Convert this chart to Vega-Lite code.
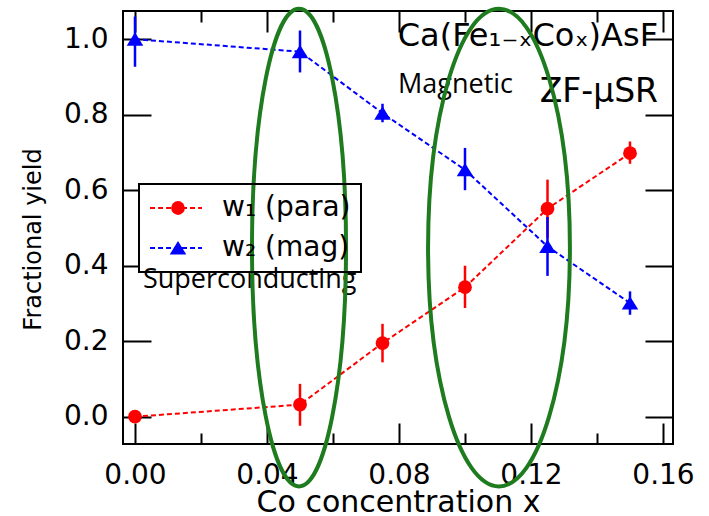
{
  "$schema": "https://vega.github.io/schema/vega-lite/v6.json",
  "width": 550,
  "height": 433,
  "autosize": {"type": "none"},
  "padding": {"left": 123, "top": 11, "right": 36, "bottom": 72},
  "background": "white",
  "config": {
    "view": {"stroke": "black", "strokeWidth": 2},
    "legend": {"strokeWidth": 2},
    "axis": {"grid": false, "domain": false, "tickColor": "black", "tickWidth": 2, "labelColor": "black", "labelFont": "DejaVu Sans", "labelFontSize": 28, "titleColor": "black", "titleFont": "DejaVu Sans", "titleFontWeight": "normal", "labelFlush": false, "labelOverlap": false}
  },
  "datasets": {
    "yield": [
      {"series": "w₁ (para)", "x": 0.0, "y": 0.0, "lo": 0.0, "hi": 0.0},
      {"series": "w₁ (para)", "x": 0.05, "y": 0.032, "lo": -0.024, "hi": 0.087},
      {"series": "w₁ (para)", "x": 0.075, "y": 0.195, "lo": 0.144, "hi": 0.246},
      {"series": "w₁ (para)", "x": 0.1, "y": 0.343, "lo": 0.288, "hi": 0.4},
      {"series": "w₁ (para)", "x": 0.125, "y": 0.551, "lo": 0.474, "hi": 0.628},
      {"series": "w₁ (para)", "x": 0.15, "y": 0.698, "lo": 0.67, "hi": 0.729},
      {"series": "w₂ (mag)", "x": 0.0, "y": 1.0, "lo": 0.927, "hi": 1.06},
      {"series": "w₂ (mag)", "x": 0.05, "y": 0.967, "lo": 0.912, "hi": 1.023},
      {"series": "w₂ (mag)", "x": 0.075, "y": 0.804, "lo": 0.78, "hi": 0.829},
      {"series": "w₂ (mag)", "x": 0.1, "y": 0.654, "lo": 0.6, "hi": 0.712},
      {"series": "w₂ (mag)", "x": 0.125, "y": 0.451, "lo": 0.373, "hi": 0.529},
      {"series": "w₂ (mag)", "x": 0.15, "y": 0.301, "lo": 0.27, "hi": 0.332}
    ]
  },
  "layer": [
    {
      "data": {"name": "yield"},
      "mark": {"type": "line", "strokeDash": [5, 3], "strokeWidth": 2},
      "encoding": {
        "x": {"field": "x", "type": "quantitative", "scale": {"domain": [-0.003636, 0.16303], "nice": false, "zero": false},
          "axis": {"orient": "bottom", "values": [0, 0.02, 0.04, 0.06, 0.08, 0.1, 0.12, 0.14, 0.16], "format": ".2f",
            "labelExpr": "round(datum.value*100) % 4 == 0 ? datum.label : ''",
            "tickSize": {"condition": {"test": "round(datum.value*100) % 4 == 0", "value": -21}, "value": -11},
            "labelBaseline": "alphabetic", "labelPadding": 60,
            "title": "Co concentration x", "titleFontSize": 30, "titleX": 275, "titleY": 67, "titleBaseline": "alphabetic", "titleAlign": "center"}},
        "y": {"field": "y", "type": "quantitative", "scale": {"domain": [-0.0723, 1.0747], "nice": false, "zero": false},
          "axis": {"orient": "left", "values": [0, 0.2, 0.4, 0.6, 0.8, 1], "format": ".1f",
            "tickSize": {"condition": {"test": "datum.value > 0.3 && datum.value < 0.7", "value": -16}, "value": -28},
            "labelPadding": {"condition": {"test": "datum.value > 0.3 && datum.value < 0.7", "value": 31}, "value": 43},
            "labelBaseline": "middle",
            "title": "Fractional yield", "titleFontSize": 24, "titleX": -90, "titleY": 228, "titleAngle": 270, "titleAlign": "center", "titleBaseline": "middle"}},
        "stroke": {"field": "series", "type": "nominal", "scale": {"domain": ["w₂ (mag)", "w₁ (para)"], "range": ["#0000ff", "#ff0000"]},
          "legend": {"title": null, "values": ["w₁ (para)", "w₂ (mag)"], "orient": "none", "legendX": 16, "legendY": 173, "strokeColor": "black", "padding": 10,
            "symbolType": "stroke", "symbolSize": 2704, "symbolStrokeWidth": 2, "symbolDash": [5, 3], "symbolOpacity": 1, "clipHeight": 28,
            "labelFont": "DejaVu Sans", "labelFontSize": 28, "labelColor": "black",
            "labelOffset": 19, "rowPadding": 12, "labelLimit": 400, "labelExpr": "datum.label + '\u2002'"}}
      }
    },
    {
      "data": {"name": "yield"},
      "transform": [{"filter": "datum.series === 'w₁ (para)'"}],
      "mark": {"type": "rule", "strokeWidth": 2.5, "color": "#ff0000"},
      "encoding": {
        "x": {"field": "x", "type": "quantitative", "scale": {"domain": [-0.003636, 0.16303], "nice": false, "zero": false},
          "axis": {"orient": "top", "values": [0, 0.02, 0.04, 0.06, 0.08, 0.1, 0.12, 0.14, 0.16],
            "tickSize": {"condition": {"test": "round(datum.value*100) % 4 == 0", "value": -21}, "value": -11},
            "labels": false, "title": null}},
        "y": {"field": "lo", "type": "quantitative", "scale": {"domain": [-0.0723, 1.0747], "nice": false, "zero": false},
          "axis": {"orient": "right", "values": [0, 0.2, 0.4, 0.6, 0.8, 1], "tickSize": -28, "labels": false, "title": null}},
        "y2": {"field": "hi"}
      }
    },
    {
      "data": {"name": "yield"},
      "transform": [{"filter": "datum.series === 'w₂ (mag)'"}],
      "mark": {"type": "rule", "strokeWidth": 2.5, "color": "#0000ff"},
      "encoding": {
        "x": {"field": "x", "type": "quantitative", "scale": {"domain": [-0.003636, 0.16303], "nice": false, "zero": false}, "axis": null},
        "y": {"field": "lo", "type": "quantitative", "scale": {"domain": [-0.0723, 1.0747], "nice": false, "zero": false}, "axis": null},
        "y2": {"field": "hi"}
      }
    },
    {
      "data": {"name": "yield"},
      "mark": {"type": "point", "filled": true, "opacity": 1, "strokeWidth": 0, "size": 190},
      "encoding": {
        "x": {"field": "x", "type": "quantitative", "scale": {"domain": [-0.003636, 0.16303], "nice": false, "zero": false}, "axis": null},
        "y": {"field": "y", "type": "quantitative", "scale": {"domain": [-0.0723, 1.0747], "nice": false, "zero": false}, "axis": null},
        "color": {"field": "series", "type": "nominal", "scale": {"domain": ["w₁ (para)", "w₂ (mag)"], "range": ["#ff0000", "#0000ff"]},
          "legend": {"title": null, "orient": "none", "legendX": 31, "legendY": 173, "padding": 10,
            "symbolSize": 190, "symbolStrokeWidth": 0, "symbolOpacity": 1, "clipHeight": 28, "labelFont": "DejaVu Sans", "labelFontSize": 28, "labelOpacity": 0,
            "labelOffset": 19, "rowPadding": 12, "labelLimit": 400}},
        "shape": {"field": "series", "type": "nominal", "scale": {"domain": ["w₁ (para)", "w₂ (mag)"], "range": ["circle", "M0,-1L1.2,0.95L-1.2,0.95Z"]},
          "legend": {"title": null, "orient": "none", "legendX": 31, "legendY": 173, "padding": 10,
            "symbolSize": 190, "symbolStrokeWidth": 0, "symbolOpacity": 1, "clipHeight": 28, "labelFont": "DejaVu Sans", "labelFontSize": 28, "labelOpacity": 0,
            "labelOffset": 19, "rowPadding": 12, "labelLimit": 400}}
      }
    },
    {
      "data": {"values": [{"label": "Ca(Fe₁₋ₓCoₓ)AsF"}]},
      "mark": {"type": "text", "align": "right", "baseline": "alphabetic", "font": "DejaVu Sans", "fontSize": 32, "color": "black"},
      "encoding": {
        "x": {"datum": 0.1585, "type": "quantitative", "scale": {"domain": [-0.003636, 0.16303], "nice": false, "zero": false}, "axis": null},
        "y": {"datum": 0.982, "type": "quantitative", "scale": {"domain": [-0.0723, 1.0747], "nice": false, "zero": false}, "axis": null},
        "text": {"field": "label"}
      }
    },
    {
      "data": {"values": [{"label": "ZF-μSR"}]},
      "mark": {"type": "text", "align": "right", "baseline": "alphabetic", "font": "DejaVu Sans", "fontSize": 33, "color": "black"},
      "encoding": {
        "x": {"datum": 0.1585, "type": "quantitative", "scale": {"domain": [-0.003636, 0.16303], "nice": false, "zero": false}, "axis": null},
        "y": {"datum": 0.834, "type": "quantitative", "scale": {"domain": [-0.0723, 1.0747], "nice": false, "zero": false}, "axis": null},
        "text": {"field": "label"}
      }
    },
    {
      "data": {"values": [{"label": "Magnetic"}]},
      "mark": {"type": "text", "align": "left", "baseline": "alphabetic", "font": "Open Sans", "fontSize": 27, "color": "black"},
      "encoding": {
        "x": {"datum": 0.0797, "type": "quantitative", "scale": {"domain": [-0.003636, 0.16303], "nice": false, "zero": false}, "axis": null},
        "y": {"datum": 0.857, "type": "quantitative", "scale": {"domain": [-0.0723, 1.0747], "nice": false, "zero": false}, "axis": null},
        "text": {"field": "label"}
      }
    },
    {
      "data": {"values": [{"label": "Superconducting"}]},
      "mark": {"type": "text", "align": "left", "baseline": "alphabetic", "font": "Open Sans", "fontSize": 27, "color": "black"},
      "encoding": {
        "x": {"datum": 0.0024, "type": "quantitative", "scale": {"domain": [-0.003636, 0.16303], "nice": false, "zero": false}, "axis": null},
        "y": {"datum": 0.34, "type": "quantitative", "scale": {"domain": [-0.0723, 1.0747], "nice": false, "zero": false}, "axis": null},
        "text": {"field": "label"}
      }
    },
    {
      "data": {"values": [{"region": "A"}]},
      "mark": {"type": "point", "shape": "M0,-1A0.197,1 0 1,1 0,1A0.197,1 0 1,1 0,-1Z", "size": 228102, "filled": false, "color": "#1e7b1e", "strokeWidth": 4, "opacity": 1},
      "encoding": {
        "x": {"datum": 0.0497, "type": "quantitative", "scale": {"domain": [-0.003636, 0.16303], "nice": false, "zero": false}, "axis": null},
        "y": {"datum": 0.448, "type": "quantitative", "scale": {"domain": [-0.0723, 1.0747], "nice": false, "zero": false}, "axis": null}
      }
    },
    {
      "data": {"values": [{"region": "B"}]},
      "mark": {"type": "point", "shape": "M0,-1A0.297,1 0 1,1 0,1A0.297,1 0 1,1 0,-1Z", "size": 228102, "filled": false, "color": "#1e7b1e", "strokeWidth": 4, "opacity": 1},
      "encoding": {
        "x": {"datum": 0.1103, "type": "quantitative", "scale": {"domain": [-0.003636, 0.16303], "nice": false, "zero": false}, "axis": null},
        "y": {"datum": 0.448, "type": "quantitative", "scale": {"domain": [-0.0723, 1.0747], "nice": false, "zero": false}, "axis": null}
      }
    }
  ],
  "resolve": {"axis": {"x": "independent", "y": "independent"}}
}
